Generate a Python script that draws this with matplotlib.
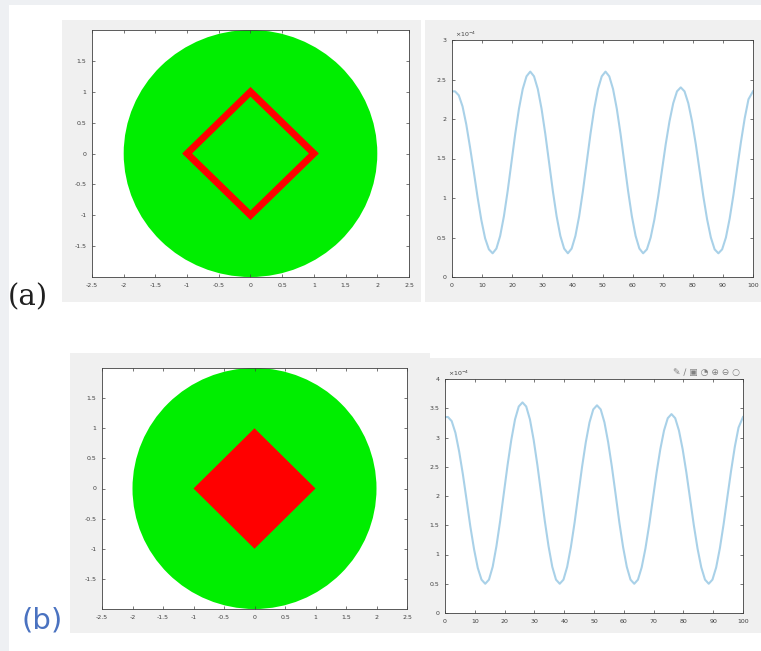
import numpy as np
import matplotlib
matplotlib.use("Agg")
import matplotlib.pyplot as plt
from matplotlib.patches import Circle, Polygon, Rectangle

# data (signal values in units of 1e-4)
diamond = [(1, 0), (0, 1), (-1, 0), (0, -1)]
radius = 2.0

x_sig = [0] + list(np.arange(1, 99, 1.25)) + [100]
sig_a = [2.35,
         2.35, 2.30, 2.16, 1.93, 1.64, 1.33, 1.01, 0.72, 0.49, 0.35, 0.30,
         0.36, 0.52, 0.77, 1.09, 1.45, 1.81, 2.13, 2.38, 2.54, 2.60,
         2.54, 2.38, 2.13, 1.81, 1.45, 1.09, 0.77, 0.52, 0.36, 0.30,
         0.36, 0.52, 0.77, 1.09, 1.45, 1.81, 2.13, 2.38, 2.54, 2.60,
         2.54, 2.38, 2.13, 1.81, 1.45, 1.09, 0.77, 0.52, 0.36, 0.30,
         0.35, 0.50, 0.73, 1.02, 1.35, 1.68, 1.97, 2.20, 2.35, 2.40,
         2.35, 2.20, 1.97, 1.68, 1.35, 1.02, 0.73, 0.50, 0.35, 0.30,
         0.35, 0.50, 0.74, 1.04, 1.38, 1.71, 2.01, 2.25,
         2.35]
sig_b = [3.35,
         3.35, 3.28, 3.08, 2.76, 2.37, 1.93, 1.48, 1.09, 0.77, 0.57, 0.50,
         0.57, 0.79, 1.14, 1.57, 2.05, 2.53, 2.96, 3.31, 3.53, 3.60,
         3.53, 3.31, 2.96, 2.53, 2.05, 1.57, 1.14, 0.79, 0.57, 0.50,
         0.57, 0.79, 1.13, 1.55, 2.03, 2.50, 2.92, 3.26, 3.48, 3.55,
         3.48, 3.26, 2.92, 2.50, 2.03, 1.55, 1.13, 0.79, 0.57, 0.50,
         0.57, 0.78, 1.10, 1.50, 1.95, 2.40, 2.80, 3.12, 3.33, 3.40,
         3.33, 3.12, 2.80, 2.40, 1.95, 1.50, 1.10, 0.78, 0.57, 0.50,
         0.57, 0.78, 1.11, 1.52, 1.98, 2.43, 2.84, 3.17,
         3.35]

W, H = 761, 651
fig = plt.figure(figsize=(W / 100, H / 100), dpi=100)
fig.patch.set_facecolor("white")

def px_rect(x0, y0, x1, y1):
    return [x0 / W, 1 - y1 / H, (x1 - x0) / W, (y1 - y0) / H]

# page strips and grey figure backgrounds of the screenshots
for (x0, y0, x1, y1), c in [((0, 0, W, 5), "#eef0f3"), ((0, 0, 9, H), "#eef0f3"),
                            ((62, 20, 421, 302), "#f0f0f0"), ((425, 20, W, 302), "#f0f0f0"),
                            ((70, 353, 430, 633), "#f0f0f0"), ((422, 358, W, 633), "#f0f0f0")]:
    r = px_rect(x0, y0, x1, y1)
    fig.patches.append(Rectangle((r[0], r[1]), r[2], r[3], transform=fig.transFigure,
                                 facecolor=c, edgecolor="none", zorder=-10))

def style(ax):
    ax.tick_params(direction="in", length=2, width=0.5, labelsize=4.5,
                   colors="#404040", top=True, right=True, pad=4)
    for s in ax.spines.values():
        s.set_linewidth(0.6)
        s.set_color("#404040")

def shape_panel(rect, filled):
    ax = fig.add_axes(px_rect(*rect))
    ax.add_patch(Circle((0, 0), radius, facecolor="#00ee00", edgecolor="none"))
    if filled:
        ax.add_patch(Polygon(diamond, closed=True, facecolor="#ff0000", edgecolor="none"))
    else:
        ax.add_patch(Polygon(diamond, closed=True, fill=False, edgecolor="#ff0000",
                             linewidth=5, joinstyle="miter"))
    ax.set_xlim(-2.5, 2.5)
    ax.set_ylim(-2, 2)
    ax.set_xticks(np.arange(-2.5, 2.6, 0.5))
    ax.set_yticks(np.arange(-1.5, 1.6, 0.5))
    ax.set_xticklabels(["-2.5", "-2", "-1.5", "-1", "-0.5", "0", "0.5", "1", "1.5", "2", "2.5"])
    ax.set_yticklabels(["-1.5", "-1", "-0.5", "0", "0.5", "1", "1.5"])
    style(ax)
    return ax

def signal_panel(rect, y, ytop, toolbar=False):
    ax = fig.add_axes(px_rect(*rect))
    ax.plot(x_sig, y, color="#a9d1e8", linewidth=1.5)
    ax.set_xlim(0, 100)
    ax.set_ylim(0, ytop)
    ax.set_xticks(np.arange(0, 101, 10))
    yt = np.arange(0, ytop + 0.01, 0.5)
    ax.set_yticks(yt)
    ax.set_yticklabels([("%g" % v) for v in yt])
    style(ax)
    ax.text(0.01, 1.005, r"$\times10^{-4}$", transform=ax.transAxes, fontsize=4.5,
            color="#404040", va="bottom", ha="left")
    if toolbar:
        ax.text(0.99, 1.01, "\u270e \u2215 \u25a3 \u25d4 \u2295 \u2296 \u25cb", transform=ax.transAxes,
                fontsize=6.5, color="#808080", va="bottom", ha="right")
    return ax

shape_panel((92, 30, 409, 277), filled=False)
signal_panel((452, 40, 753, 277), sig_a, 3)
shape_panel((102, 368, 407, 609), filled=True)
signal_panel((445, 379, 743, 613), sig_b, 4, toolbar=True)

fig.text(8 / W, 1 - 297 / H, "(a)", fontsize=21, family="DejaVu Serif",
         color="#202020", va="center", ha="left")
fig.text(21 / W, 1 - 621 / H, "(b)", fontsize=21, family="DejaVu Sans",
         color="#4a72c0", va="center", ha="left")

fig.savefig("out.png", dpi=100)
